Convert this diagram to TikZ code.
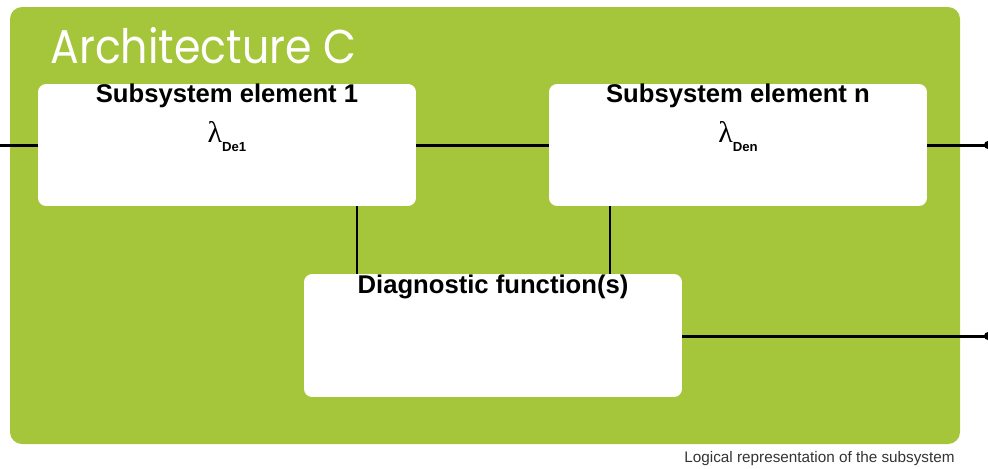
\documentclass[tikz,border=0pt]{standalone}
\usepackage{fontspec}
\setmainfont{Liberation Sans}
\newfontfamily\archfont{Poppins}
\newfontfamily\lamfont{Liberation Serif}
\usetikzlibrary{positioning, calc}
\definecolor{archgreen}{HTML}{A5C63A}
\definecolor{capgray}{HTML}{333333}
\tikzset{
  frame/.style={fill=archgreen, rounded corners=0.24cm},
  blk/.style={fill=white, rounded corners=0.16cm, minimum width=7.56cm, minimum height=2.44cm, inner sep=0pt},
  dblk/.style={blk, minimum height=2.46cm},
  ttl/.style={font=\fontsize{14.6}{17}\selectfont\bfseries, inner sep=0pt},
  lam/.style={inner sep=0pt},
  wire/.style={line width=1.7pt},
  tip/.style={fill=black, radius=0.08cm}
}
\newcommand{\lamsub}[1]{{\lamfont\fontsize{17}{20}\selectfont λ}\raisebox{-0.9ex}{\fontsize{7.5}{9}\selectfont\bfseries #1}}

\begin{document}
\begin{tikzpicture}[x=0.02cm, y=-0.02cm]
		\useasboundingbox (0,0) rectangle (988,468);
		\fill[frame] (10,7) rectangle (960,444);
		\node[font=\archfont\fontsize{27}{31}\selectfont, color=white, anchor=base west, inner sep=0pt] (arch) at (50,63) {\scalebox{0.9}[1]{Architecture C}};
		\node[blk] (sub1) at (227,145) {};
		\node[blk] (subn) at (738,145) {};
		\node[dblk] (diag) at (493,335.5) {};
		\node[ttl, anchor=base] (t1) at ($(sub1.north)+(0,19)$) {Subsystem element 1};
		\node[ttl, anchor=base] (tn) at ($(subn.north)+(0,19)$) {Subsystem element n};
		\node[ttl, anchor=base] (td) at ($(diag.north)+(0,20)$) {Diagnostic function(s)};
		\node[lam, anchor=base] (l1) at ($(sub1.north)+(0,59)$) {\lamsub{De1}};
		\node[lam, anchor=base] (ln) at ($(subn.north)+(0,59)$) {\lamsub{Den}};
		\coordinate (inL) at (0,145);
		\coordinate (outR) at (988,145);
		\coordinate (outD) at (988,336);
		\draw[wire] (inL) -- (sub1.west);
		\draw[wire] (sub1.east) -- (subn.west);
		\draw[wire] (subn.east) -- (outR);
		\draw[wire] (diag.east |- outD) -- (outD);
		\draw[wire] ($(sub1.south)+(130,0)$) coordinate (v1) -- (v1 |- diag.north);
		\draw[wire] ($(subn.south)+(-128,0)$) coordinate (vn) -- (vn |- diag.north);
		\fill[tip] (outR) circle;
		\fill[tip] (outD) circle;
		\node[font=\fontsize{8.7}{10}\selectfont, color=capgray, anchor=base east, inner sep=0pt] (cap) at (955,462) {Logical representation of the subsystem};
	\end{tikzpicture}
\end{document}
